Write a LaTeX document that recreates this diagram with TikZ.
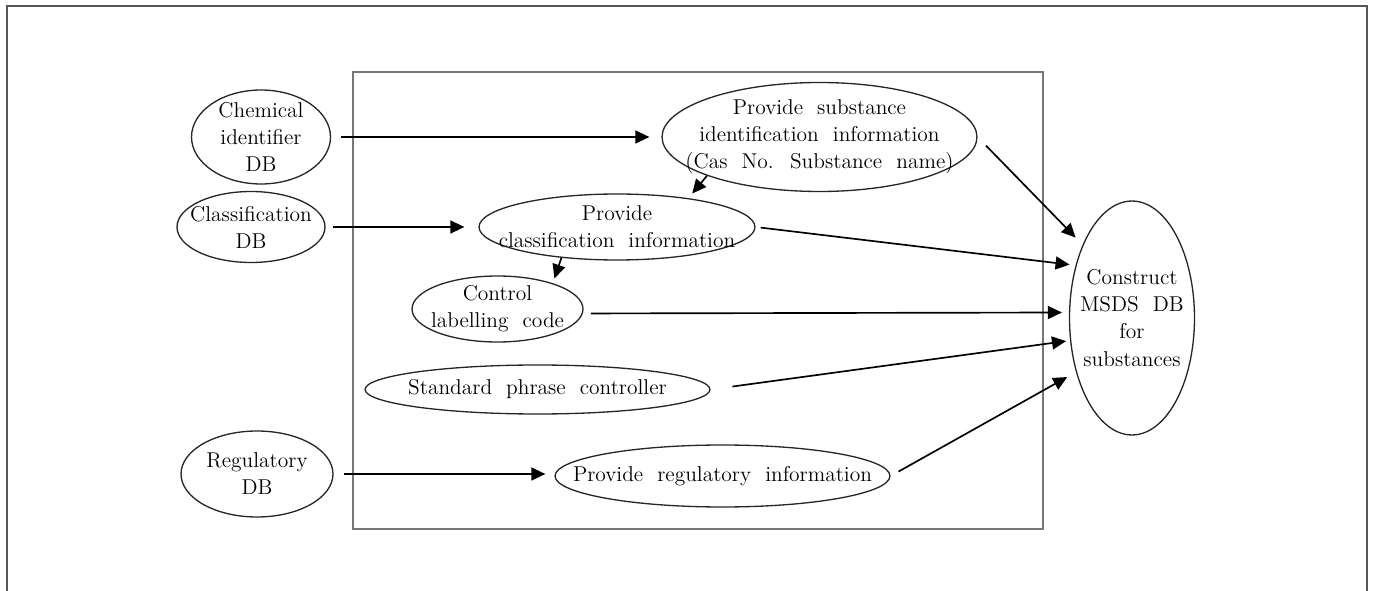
\documentclass[tikz,border=0pt]{standalone}
\usepackage{xcolor}
\usepackage{tikz}
\usetikzlibrary{arrows.meta, positioning, shapes.geometric}
\definecolor{framegray}{HTML}{555555}
\definecolor{boxgray}{HTML}{777777}
\tikzset{
  ovaltxt/.style={align=center,inner sep=0pt,font=\fontsize{12.2}{15.4}\selectfont,
    execute at begin node={\spaceskip=8pt\relax}},
  dbnode/.style={ellipse,draw=black!85,line width=0.75pt,inner sep=0pt,
    label={[ovaltxt]center:#1}},
  procnode/.style={dbnode=#1},
  flowedge/.style={-{Triangle[length=8pt,width=7.4pt]},line width=0.95pt,black},
  outerframe/.style={draw=framegray,line width=1.2pt},
  sysbox/.style={draw=boxgray,line width=1.1pt},
}

\begin{document}
\begin{tikzpicture}[x=0.02cm,y=-0.02cm]
  \useasboundingbox (0,0) rectangle (1374,591);
  \draw[outerframe] (7,591) -- (7,6) -- (1367,6) -- (1367,591);
  \draw[sysbox] (353,72) rectangle (1043,529);
  \node[dbnode={Chemical\\identifier\\DB},minimum width=2.78cm,minimum height=1.88cm] (chem) at (261,137) {};
  \node[dbnode={Classification\\DB},minimum width=2.96cm,minimum height=1.42cm] (cls) at (251,227) {};
  \node[dbnode={Regulatory\\DB},minimum width=3.04cm,minimum height=1.72cm] (reg) at (257,474) {};
  \node[procnode={Provide substance\\identification information\\(Cas No. Substance name)},minimum width=6.3cm,minimum height=2.18cm] (psub) at (819.5,137) {};
  \node[procnode={Provide\\classification information},minimum width=5.52cm,minimum height=1.32cm] (pcls) at (617,227) {};
  \node[procnode={Control\\labelling code},minimum width=3.42cm,minimum height=1.32cm] (ctrl) at (497.5,309) {};
  \node[procnode={Standard phrase controller},minimum width=6.9cm,minimum height=0.98cm] (std) at (537.5,389.5) {};
  \node[procnode={Provide regulatory information},minimum width=6.7cm,minimum height=1.24cm] (preg) at (722.5,476) {};
  \node[procnode={Construct\\MSDS DB\\for\\substances},minimum width=2.5cm,minimum height=4.68cm] (msds) at (1132,318) {};
  \draw[flowedge,shorten <=0.19cm,shorten >=0.24cm] (chem) -- (psub);
  \draw[flowedge,shorten <=0.14cm,shorten >=0.28cm] (cls) -- (pcls);
  \draw[flowedge,shorten <=0.2cm,shorten >=0.18cm] (reg.east) -- (reg.east -| preg.west);
  \draw[flowedge,shorten >=0.12cm] (psub.199) -- (pcls.22);
  \draw[flowedge,shorten >=0.1cm] (pcls.209) -- (ctrl.25);
  \draw[flowedge,shorten <=0.24cm,shorten >=0.2cm] (psub.east) -- (msds.124);
  \draw[flowedge,shorten <=0.1cm,shorten >=0.12cm] (pcls.east) -- (msds.137);
  \draw[flowedge,shorten <=0.16cm,shorten >=0.14cm] (ctrl.-3) -- (msds.175);
  \draw[flowedge,shorten <=0.44cm,shorten >=0.08cm] (std.east) -- (msds.200);
  \draw[flowedge,shorten <=0.18cm,shorten >=0.2cm] (preg.east) -- (msds.224);
\end{tikzpicture}
\end{document}
